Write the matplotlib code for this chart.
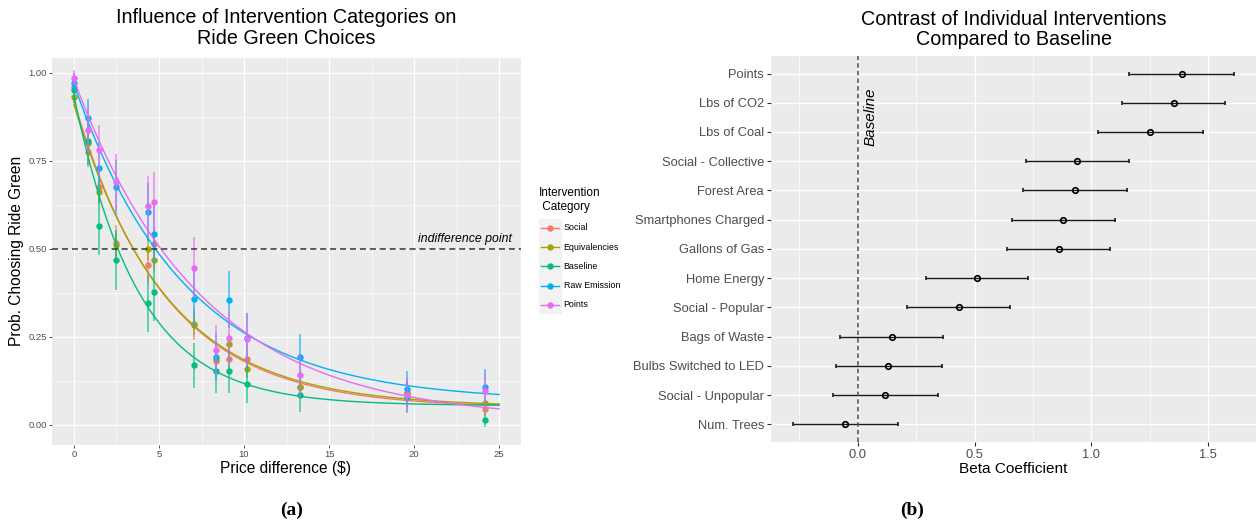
import numpy as np
import matplotlib
matplotlib.use('Agg')
import matplotlib.pyplot as plt
from matplotlib.lines import Line2D
from matplotlib.patches import Rectangle
from matplotlib.ticker import FixedLocator

plt.rcParams['font.family'] = ['Liberation Sans', 'DejaVu Sans']

# ---- panel (a): share choosing Ride Green by price difference ----
price = [0, 0.84, 1.5, 2.5, 4.37, 4.71, 7.06, 8.33, 9.1, 10.2, 13.3, 19.6, 24.2]
categories = ['Social', 'Equivalencies', 'Baseline', 'Raw Emission', 'Points']
colors = ['#F8766D', '#A3A500', '#00BF7D', '#00B0F6', '#E76BF3']
social = [0.960, 0.774, 0.675, 0.517, 0.454, 0.512, 0.285, 0.182, 0.187, 0.187, 0.108, 0.090, 0.045]
equiv = [0.932, 0.799, 0.660, 0.510, 0.500, 0.468, 0.284, 0.186, 0.229, 0.157, 0.106, 0.091, 0.061]
baseline = [0.951, 0.806, 0.565, 0.468, 0.345, 0.377, 0.169, 0.152, 0.152, 0.116, 0.084, 0.078, 0.014]
raw = [0.972, 0.870, 0.728, 0.674, 0.605, 0.543, 0.356, 0.193, 0.355, 0.245, 0.191, 0.102, 0.106]
points = [0.986, 0.838, 0.780, 0.689, 0.622, 0.633, 0.446, 0.212, 0.247, 0.243, 0.140, 0.084, 0.096]
n_obs = [380, 900, 133, 135, 125]  # respondents per price level

# ---- panel (b): beta coefficients vs baseline ----
interventions = ['Points', 'Lbs of CO2', 'Lbs of Coal', 'Social - Collective', 'Forest Area',
                 'Smartphones Charged', 'Gallons of Gas', 'Home Energy', 'Social - Popular',
                 'Bags of Waste', 'Bulbs Switched to LED', 'Social - Unpopular', 'Num. Trees']
beta = [1.387, 1.355, 1.253, 0.941, 0.931, 0.880, 0.860, 0.510, 0.432, 0.145, 0.131, 0.117, -0.054]
beta_lo = [1.162, 1.134, 1.031, 0.722, 0.709, 0.661, 0.641, 0.290, 0.209, -0.076, -0.094, -0.107, -0.278]
beta_hi = [1.612, 1.575, 1.478, 1.162, 1.152, 1.101, 1.082, 0.729, 0.654, 0.363, 0.359, 0.342, 0.171]

W, H = 1256, 525


def fx(px):
    return px / W


def fy(py):
    return 1 - py / H


def fit_decay(x, y):
    # p = a + b * exp(-k x), least squares over a grid of k
    best = None
    for k in np.linspace(0.02, 1.0, 981):
        A = np.column_stack([np.ones_like(x), np.exp(-k * x)])
        coef = np.linalg.lstsq(A, y, rcond=None)[0]
        sse = np.sum((A @ coef - y) ** 2)
        if best is None or sse < best[0]:
            best = (sse, coef[0], coef[1], k)
    return best[1:]


def gg_axes(ax, lab_size, tick_len, tick_w, major_lw):
    ax.set_facecolor('#EBEBEB')
    for s in ax.spines.values():
        s.set_visible(False)
    ax.grid(which='major', color='white', lw=major_lw)
    ax.grid(which='minor', color='white', lw=major_lw / 2)
    ax.set_axisbelow(True)
    ax.tick_params(which='major', length=tick_len, width=tick_w, color='#333333',
                   labelsize=lab_size, labelcolor='#4D4D4D')
    ax.tick_params(which='minor', length=0)


fig = plt.figure(figsize=(W / 100, H / 100), dpi=100)

# panel (a)
ax1 = fig.add_axes([fx(51.7), fy(444.7), fx(520.7) - fx(51.7), fy(58) - fy(444.7)])
gg_axes(ax1, 6.8, 2.0, 0.6, 0.8)
ax1.tick_params(which='major', pad=1.5)

x = np.array(price, dtype=float)
xs = np.linspace(0, 25, 300)
series = [social, equiv, baseline, raw, points]
for name, col, vals, n in zip(categories, colors, series, n_obs):
    p = np.array(vals)
    err = 1.96 * np.sqrt(p * (1 - p) / n)
    ax1.vlines(x, p - err, p + err, color=col, lw=1.4, alpha=0.6)
    a, b, k = fit_decay(x, p)
    ax1.plot(xs, a + b * np.exp(-k * xs), color=col, lw=1.0)
    ax1.plot(x, p, 'o', color=col, ms=4.6, mec='none')

ax1.axhline(0.5, color='#333333', lw=1.1, ls=(0, (4, 2.5)))
ax1.text(25.75, 0.527, 'indifference point', ha='right', va='center',
         style='italic', fontsize=8.8, color='black')
ax1.set_xlim(-1.31, 26.27)
ax1.set_ylim(-0.0568, 1.0418)
ax1.set_xticks([0, 5, 10, 15, 20, 25])
ax1.set_xticklabels(['0', '5', '10', '15', '20', '25'])
ax1.xaxis.set_minor_locator(FixedLocator([2.5, 7.5, 12.5, 17.5, 22.5]))
ax1.set_yticks([0, 0.25, 0.5, 0.75, 1.0])
ax1.set_yticklabels(['0.00', '0.25', '0.50', '0.75', '1.00'])
ax1.yaxis.set_minor_locator(FixedLocator([0.125, 0.375, 0.625, 0.875]))

fig.text(fx(286), fy(28), 'Influence of Intervention Categories on\nRide Green Choices',
         ha='center', va='center', fontsize=14.2, linespacing=1.1)
fig.text(fx(286), fy(469), 'Price difference ($)', ha='center', va='center', fontsize=11.2)
fig.text(fx(17), fy(251), 'Prob. Choosing Ride Green', ha='center', va='center',
         rotation=90, fontsize=11.2)

# legend of panel (a)
fig.patches.append(Rectangle((fx(539), fy(313)), fx(561) - fx(539), fy(219) - fy(313),
                             transform=fig.transFigure, color='#F2F2F2', zorder=0))
fig.text(fx(539), fy(200), 'Intervention\n Category', ha='left', va='center',
         fontsize=8.5, linespacing=1.15)
for i, (name, col) in enumerate(zip(categories, colors)):
    yy = fy(227.7 + i * 19.3)
    fig.add_artist(Line2D([fx(541), fx(559)], [yy, yy], color=col, lw=1.0,
                          transform=fig.transFigure))
    fig.add_artist(Line2D([fx(550)], [yy], marker='o', color=col, ms=4.6, mec='none',
                          transform=fig.transFigure))
    fig.text(fx(563.5), yy, name, ha='left', va='center', fontsize=6.4)
# sub-figure (a) is cropped at its right edge, cutting the legend text
fig.patches.append(Rectangle((fx(621), fy(294)), fx(660) - fx(621), fy(277) - fy(294),
                             transform=fig.transFigure, color='white', zorder=10))

# panel (b)
ax2 = fig.add_axes([fx(771), fy(441.8), 1 - fx(771), fy(56) - fy(441.8)])
gg_axes(ax2, 9.3, 2.75, 0.8, 1.0)
ax2.tick_params(which='major', pad=2.2)

ypos = np.arange(len(interventions))
b_arr = np.array(beta)
ax2.errorbar(b_arr, ypos, xerr=[b_arr - np.array(beta_lo), np.array(beta_hi) - b_arr],
             fmt='o', color='black', ecolor='#1A1A1A', elinewidth=1.0, capsize=1.6,
             capthick=1.0, ms=4.0, mfc='none', mec='black', mew=1.2)
ax2.axvline(0, color='#4D4D4D', lw=1.1, ls=(0, (3, 2)))
ax2.text(0.053, 1.49, 'Baseline', rotation=90, style='italic', ha='center', va='center',
         fontsize=11)
ax2.set_yticks(ypos)
ax2.set_yticklabels(interventions)
ax2.set_ylim(len(interventions) - 0.4, -0.6)
ax2.set_xlim(-0.372, 1.706)
ax2.set_xticks([0, 0.5, 1.0, 1.5])
ax2.set_xticklabels(['0.0', '0.5', '1.0', '1.5'])
ax2.xaxis.set_minor_locator(FixedLocator([-0.25, 0.25, 0.75, 1.25]))

fig.text(fx(1013.5), fy(29.5), 'Contrast of Individual Interventions\nCompared to Baseline',
         ha='center', va='center', fontsize=14.2, linespacing=1.1)
fig.text(fx(1013.5), fy(469), 'Beta Coefficient', ha='center', va='center', fontsize=11.1)

# subcaptions
for label, cx in [('(a)', 292), ('(b)', 912)]:
    fig.text(fx(cx), fy(510.5), label, ha='center', va='center', fontsize=14,
             fontweight='bold', family='Liberation Serif')

fig.savefig('out.png', dpi=100)
